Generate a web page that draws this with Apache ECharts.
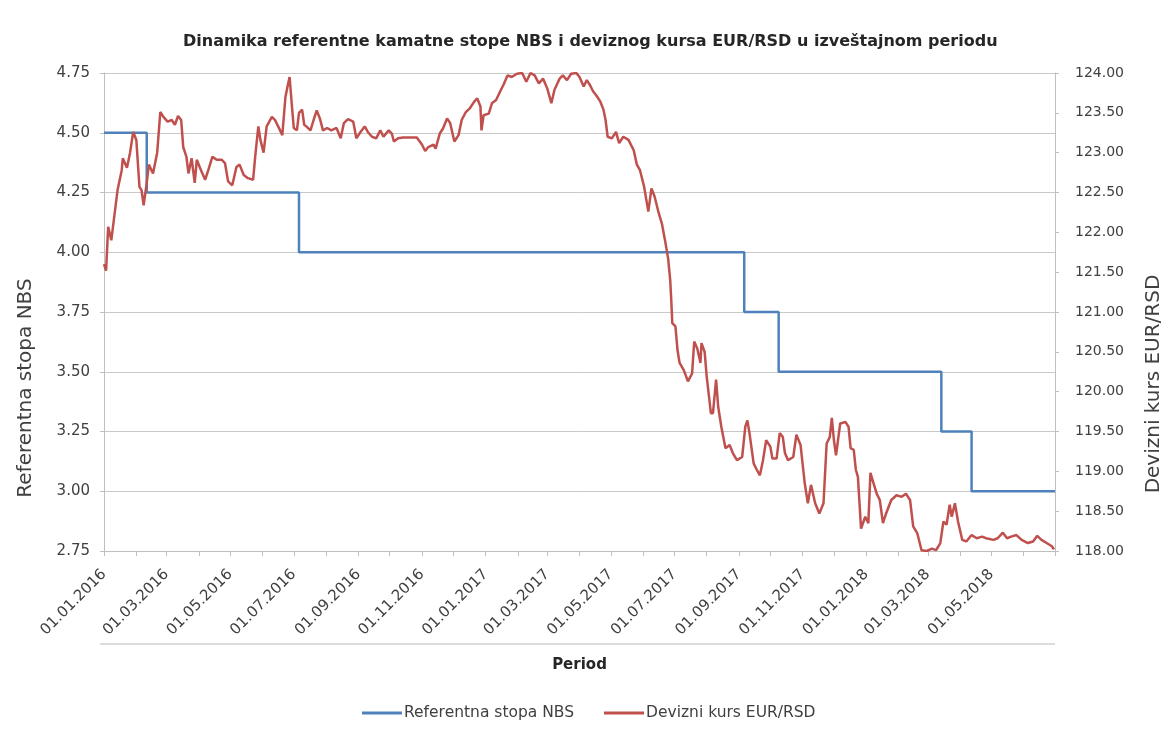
<!DOCTYPE html>
<html>
<head>
<meta charset="utf-8">
<script src="https://cdn.jsdelivr.net/npm/echarts@6/dist/echarts.min.js"></script>
<style>
html,body{margin:0;padding:0;background:#fff;}
#chart{width:1162px;height:729px;}
</style>
</head>
<body>
<div id="chart"></div>
<script>
// ---- text ----
var chartTitle = 'Dinamika referentne kamatne stope NBS i deviznog kursa EUR/RSD u izveštajnom periodu';
var xName = 'Period';
var leftName = 'Referentna stopa NBS';
var rightName = 'Devizni kurs EUR/RSD';

// ---- x tick labels (every two months) ----
var tickLabels = ['01.01.2016','01.03.2016','01.05.2016','01.07.2016','01.09.2016','01.11.2016',
  '01.01.2017','01.03.2017','01.05.2017','01.07.2017','01.09.2017','01.11.2017',
  '01.01.2018','01.03.2018','01.05.2018'];
var periodStart = '01.01.2016';
var periodEnd = '01.07.2018';

// ---- Referentna stopa NBS (changes) ----
var rateDates = ['01.01.2016','11.02.2016','06.07.2016','06.09.2017','09.10.2017','14.03.2018','12.04.2018','01.07.2018'];
var rateValues = [4.50, 4.25, 4.00, 3.75, 3.50, 3.25, 3.00, 3.00];

// ---- Devizni kurs EUR/RSD ----
var kurs2016 = [
 ['01.01.2016',121.60],['03.01.2016',121.52],['05.01.2016',122.07],['08.01.2016',121.90],['14.01.2016',122.53],
 ['18.01.2016',122.78],['19.01.2016',122.93],['23.01.2016',122.81],['26.01.2016',123.00],['29.01.2016',123.26],
 ['01.02.2016',123.16],['04.02.2016',122.57],['06.02.2016',122.53],['08.02.2016',122.34],['11.02.2016',122.62],
 ['13.02.2016',122.85],['17.02.2016',122.74],['21.02.2016',123.00],['24.02.2016',123.51],['27.02.2016',123.45],
 ['02.03.2016',123.39],['06.03.2016',123.41],['09.03.2016',123.35],['12.03.2016',123.46],['15.03.2016',123.41],
 ['17.03.2016',123.07],['20.03.2016',122.95],['22.03.2016',122.74],['25.03.2016',122.93],['28.03.2016',122.62],
 ['30.03.2016',122.91],['03.04.2016',122.78],['07.04.2016',122.66],['10.04.2016',122.78],['14.04.2016',122.95],
 ['18.04.2016',122.91],['23.04.2016',122.91],['26.04.2016',122.87],['29.04.2016',122.64],['03.05.2016',122.59],
 ['07.05.2016',122.82],['10.05.2016',122.85],['14.05.2016',122.72],['18.05.2016',122.68],['23.05.2016',122.66],
 ['25.05.2016',122.95],['28.05.2016',123.33],['30.05.2016',123.16],['02.06.2016',123.00],['05.06.2016',123.33],
 ['10.06.2016',123.45],['13.06.2016',123.41],['16.06.2016',123.33],['20.06.2016',123.22],['23.06.2016',123.70],
 ['25.06.2016',123.83],['27.06.2016',123.95],['29.06.2016',123.62],['01.07.2016',123.31],['04.07.2016',123.28],
 ['06.07.2016',123.50],['09.07.2016',123.54],['11.07.2016',123.35],['13.07.2016',123.33],['17.07.2016',123.28],
 ['20.07.2016',123.41],['23.07.2016',123.53],['26.07.2016',123.43],['29.07.2016',123.28],['02.08.2016',123.31],
 ['06.08.2016',123.28],['11.08.2016',123.31],['15.08.2016',123.18],['18.08.2016',123.37],['22.08.2016',123.42],
 ['27.08.2016',123.39],['30.08.2016',123.18],['03.09.2016',123.26],['07.09.2016',123.33],['10.09.2016',123.26],
 ['14.09.2016',123.20],['18.09.2016',123.18],['22.09.2016',123.28],['25.09.2016',123.20],['30.09.2016',123.28],
 ['03.10.2016',123.24],['05.10.2016',123.14],['09.10.2016',123.18],['14.10.2016',123.19],['20.10.2016',123.19],
 ['27.10.2016',123.19],['01.11.2016',123.10],['04.11.2016',123.02],['07.11.2016',123.07],['12.11.2016',123.10],
 ['14.11.2016',123.05],['18.11.2016',123.24],['21.11.2016',123.30],['25.11.2016',123.43],['28.11.2016',123.37],
 ['02.12.2016',123.14],['06.12.2016',123.22],['09.12.2016',123.41],['13.12.2016',123.51],['17.12.2016',123.56],
 ['21.12.2016',123.64],['24.12.2016',123.68],['27.12.2016',123.58],['28.12.2016',123.28],['30.12.2016',123.47]
];
var kurs2017 = [
 ['04.01.2017',123.49],['07.01.2017',123.62],['11.01.2017',123.66],['15.01.2017',123.77],['18.01.2017',123.85],
 ['22.01.2017',123.97],['26.01.2017',123.95],['31.01.2017',123.99],['05.02.2017',124.00],['09.02.2017',123.89],
 ['13.02.2017',124.00],['17.02.2017',123.97],['21.02.2017',123.87],['25.02.2017',123.93],['01.03.2017',123.81],
 ['05.03.2017',123.62],['08.03.2017',123.79],['13.03.2017',123.93],['16.03.2017',123.97],['20.03.2017',123.91],
 ['24.03.2017',123.99],['29.03.2017',124.00],['01.04.2017',123.95],['05.04.2017',123.83],['08.04.2017',123.91],
 ['11.04.2017',123.85],['14.04.2017',123.77],['17.04.2017',123.72],['21.04.2017',123.64],['24.04.2017',123.54],
 ['26.04.2017',123.41],['28.04.2017',123.20],['02.05.2017',123.18],['06.05.2017',123.26],['09.05.2017',123.12],
 ['13.05.2017',123.20],['18.05.2017',123.16],['23.05.2017',123.03],['26.05.2017',122.85],['29.05.2017',122.78],
 ['02.06.2017',122.57],['06.06.2017',122.26],['09.06.2017',122.55],['12.06.2017',122.45],['16.06.2017',122.24],
 ['19.06.2017',122.11],['22.06.2017',121.90],['25.06.2017',121.67],['27.06.2017',121.40],['28.06.2017',121.15],
 ['29.06.2017',120.86],['02.07.2017',120.82],['04.07.2017',120.52],['06.07.2017',120.36],['10.07.2017',120.27],
 ['14.07.2017',120.13],['18.07.2017',120.23],['20.07.2017',120.63],['23.07.2017',120.54],['26.07.2017',120.36],
 ['27.07.2017',120.61],['30.07.2017',120.50],['01.08.2017',120.19],['05.08.2017',119.73],['07.08.2017',119.73],
 ['10.08.2017',120.15],['12.08.2017',119.81],['15.08.2017',119.56],['19.08.2017',119.29],['23.08.2017',119.33],
 ['26.08.2017',119.23],['30.08.2017',119.14],['04.09.2017',119.18],['07.09.2017',119.56],['09.09.2017',119.64],
 ['11.09.2017',119.48],['15.09.2017',119.10],['18.09.2017',119.02],['21.09.2017',118.95],['24.09.2017',119.14],
 ['27.09.2017',119.39],['01.10.2017',119.31],['03.10.2017',119.16],['07.10.2017',119.16],['10.10.2017',119.48],
 ['13.10.2017',119.43],['15.10.2017',119.23],['18.10.2017',119.14],['23.10.2017',119.18],['26.10.2017',119.46],
 ['30.10.2017',119.33],['03.11.2017',118.85],['06.11.2017',118.60],['09.11.2017',118.83],['13.11.2017',118.60],
 ['17.11.2017',118.47],['21.11.2017',118.60],['24.11.2017',119.35],['27.11.2017',119.43],['29.11.2017',119.67],
 ['01.12.2017',119.39],['03.12.2017',119.20],['07.12.2017',119.60],['12.12.2017',119.62],['15.12.2017',119.56],
 ['17.12.2017',119.29],['20.12.2017',119.27],['22.12.2017',119.02],['24.12.2017',118.93],['27.12.2017',118.28],
 ['31.12.2017',118.43]
];
var kurs2018 = [
 ['03.01.2018',118.35],['05.01.2018',118.98],['08.01.2018',118.85],['11.01.2018',118.72],['14.01.2018',118.64],
 ['17.01.2018',118.35],['20.01.2018',118.47],['25.01.2018',118.64],['30.01.2018',118.70],['04.02.2018',118.68],
 ['08.02.2018',118.72],['12.02.2018',118.64],['15.02.2018',118.31],['19.02.2018',118.22],['23.02.2018',118.01],
 ['28.02.2018',118.00],['05.03.2018',118.03],['09.03.2018',118.01],['13.03.2018',118.10],['16.03.2018',118.37],
 ['19.03.2018',118.33],['22.03.2018',118.58],['24.03.2018',118.43],['27.03.2018',118.60],['30.03.2018',118.37],
 ['03.04.2018',118.14],['07.04.2018',118.12],['12.04.2018',118.20],['17.04.2018',118.16],['22.04.2018',118.18],
 ['26.04.2018',118.16],['03.05.2018',118.14],['07.05.2018',118.16],['12.05.2018',118.23],['16.05.2018',118.16],
 ['20.05.2018',118.18],['25.05.2018',118.20],['30.05.2018',118.14],['05.06.2018',118.10],['10.06.2018',118.12],
 ['14.06.2018',118.19],['18.06.2018',118.14],['23.06.2018',118.10],['28.06.2018',118.06],['30.06.2018',118.02]
];

// ---- build daily categories for the period ----
function pad(n){ return (n < 10 ? '0' : '') + n; }
function parseD(s){ var p = s.split('.'); return Date.UTC(+p[2], +p[1] - 1, +p[0]); }
function fmtD(t){ var d = new Date(t); return pad(d.getUTCDate()) + '.' + pad(d.getUTCMonth() + 1) + '.' + d.getUTCFullYear(); }
var categories = [];
for (var t = parseD(periodStart); t <= parseD(periodEnd); t += 86400000) categories.push(fmtD(t));

var rateData = rateDates.map(function (d, i) { return [d, rateValues[i]]; });
var kursData = kurs2016.concat(kurs2017, kurs2018);
var tickSet = {};
tickLabels.forEach(function (l) { tickSet[l] = true; });

var FONT = 'DejaVu Sans';
var chart = echarts.init(document.getElementById('chart'), null, { renderer: 'canvas' });
chart.setOption({
  backgroundColor: '#ffffff',
  animation: false,
  title: {
    text: chartTitle,
    left: 178,
    top: 29,
    textStyle: { fontFamily: FONT, fontSize: 16, fontWeight: 'bold', color: '#262626' }
  },
  legend: {
    left: 357,
    top: 700,
    icon: 'rect',
    itemWidth: 40,
    itemHeight: 3,
    itemGap: 30,
    textStyle: { fontFamily: FONT, fontSize: 15.5, color: '#404040', padding: [0, 0, 0, -3] },
    data: [leftName, rightName]
  },
  grid: { left: 104, right: 107, top: 73, bottom: 178, outerBoundsMode: 'none', containLabel: false },
  xAxis: {
    type: 'category',
    data: categories,
    boundaryGap: false,
    name: xName,
    nameLocation: 'middle',
    nameGap: 107,
    nameTextStyle: { fontFamily: FONT, fontSize: 15, fontWeight: 'bold', color: '#262626' },
    axisLine: { lineStyle: { color: '#bfbfbf', width: 1 } },
    axisTick: {
      show: true, length: 5, lineStyle: { color: '#bfbfbf' },
      interval: function (i, v) { return v.slice(0, 2) === '01'; }
    },
    axisLabel: {
      rotate: 45,
      margin: 21,
      fontFamily: FONT,
      fontSize: 15,
      color: '#404040',
      interval: function (i, v) { return !!tickSet[v]; }
    },
    splitLine: { show: false }
  },
  yAxis: [
    {
      type: 'value',
      min: 2.75, max: 4.75, interval: 0.25,
      name: leftName,
      nameLocation: 'middle',
      nameGap: 68,
      nameTextStyle: { fontFamily: FONT, fontSize: 20, color: '#404040', padding: [0, 152, 0, 0] },
      axisLine: { show: true, lineStyle: { color: '#bfbfbf' } },
      axisTick: { show: true, length: 4, lineStyle: { color: '#bfbfbf' } },
      axisLabel: { fontFamily: FONT, fontSize: 15, color: '#404040', margin: 14,
        formatter: function (v) { return v.toFixed(2); } },
      splitLine: { show: true, lineStyle: { color: '#c8c8c8', width: 1 } }
    },
    {
      type: 'value',
      min: 118, max: 124, interval: 0.5,
      name: rightName,
      nameLocation: 'middle',
      nameGap: 89,
      nameTextStyle: { fontFamily: FONT, fontSize: 20, color: '#404040', padding: [0, 144, 0, 0] },
      axisLine: { show: true, lineStyle: { color: '#bfbfbf' } },
      axisTick: { show: true, length: 4, lineStyle: { color: '#bfbfbf' } },
      axisLabel: { fontFamily: FONT, fontSize: 14, color: '#404040', margin: 20,
        formatter: function (v) { return v.toFixed(2); } },
      splitLine: { show: false }
    }
  ],
  graphic: [
    { type: 'line', shape: { x1: 100, y1: 644, x2: 1055, y2: 644 }, style: { stroke: '#d0d0d0', lineWidth: 1.5 } }
  ],
  series: [
    {
      name: leftName,
      type: 'line',
      yAxisIndex: 0,
      step: 'end',
      data: rateData,
      symbol: 'none',
      lineStyle: { color: '#4f81bd', width: 2.5 },
      itemStyle: { color: '#4f81bd' }
    },
    {
      name: rightName,
      type: 'line',
      yAxisIndex: 1,
      data: kursData,
      symbol: 'none',
      lineStyle: { color: '#c0504d', width: 2.5 },
      itemStyle: { color: '#c0504d' }
    }
  ]
});
</script>
</body>
</html>
